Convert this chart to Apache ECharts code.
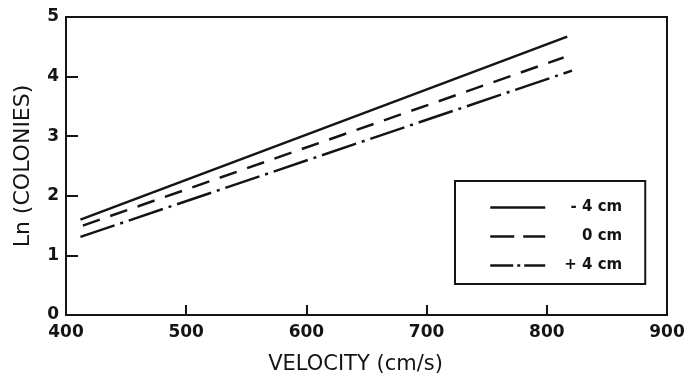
<!DOCTYPE html>
<html>
<head>
<meta charset="utf-8">
<script src="https://cdn.jsdelivr.net/npm/echarts@6/dist/echarts.min.js"></script>
<style>html,body{margin:0;padding:0;background:#fff;}#c{width:688px;height:377px;}</style>
</head>
<body>
<div id="c"></div>
<script>
const xTicks = [400, 500, 600, 700, 800, 900];
const yTicks = [0, 1, 2, 3, 4, 5];
const seriesNames = ['-4 cm', '0 cm', '+4 cm'];
const velSolid = [412, 817];
const lnSolid = [1.60, 4.67];
const velDashed = [414, 814];
const lnDashed = [1.50, 4.32];
const velDashDot = [412, 821];
const lnDashDot = [1.31, 4.10];

const ink = '#141414';
const font = 'DejaVu Sans';
function pts(xs, ys) { return xs.map((x, i) => [x, ys[i]]); }
const legendLabels = {'-4 cm': '- 4 cm', '0 cm': '0 cm', '+4 cm': '+ 4 cm'};
const dashTypes = ['solid', [18, 11], [36, 6, 3, 6]];
const legendDash = ['solid', [24, 9], [23, 4, 3, 4]];

const chart = echarts.init(document.getElementById('c'), null, {renderer: 'canvas'});
chart.setOption({
  backgroundColor: '#fff',
  animation: false,
  grid: {left: 66, right: 21, top: 17, bottom: 62, show: true, borderColor: ink, borderWidth: 2,
         containLabel: false, outerBoundsMode: 'none'},
  xAxis: {
    type: 'value', min: xTicks[0], max: xTicks[xTicks.length - 1], interval: 100,
    name: 'VELOCITY (cm/s)', nameLocation: 'middle', nameGap: 39,
    nameTextStyle: {color: ink, fontFamily: font, fontSize: 21, padding: [0, 22, 0, 0]},
    axisLine: {lineStyle: {color: ink, width: 2}},
    axisTick: {inside: true, length: 10, lineStyle: {color: ink, width: 2}},
    axisLabel: {color: ink, fontFamily: font, fontSize: 17, fontWeight: 'bold', margin: 9},
    splitLine: {show: false}
  },
  yAxis: {
    type: 'value', min: yTicks[0], max: yTicks[yTicks.length - 1], interval: 1,
    name: 'Ln (COLONIES)', nameLocation: 'middle', nameGap: 32, nameRotate: 90,
    nameTextStyle: {color: ink, fontFamily: font, fontSize: 22},
    axisLine: {lineStyle: {color: ink, width: 2}},
    axisTick: {inside: true, length: 12, lineStyle: {color: ink, width: 2}},
    axisLabel: {color: ink, fontFamily: font, fontSize: 17, fontWeight: 'bold', margin: 7},
    splitLine: {show: false}
  },
  legend: {
    orient: 'vertical', left: 455, top: 181,
    padding: [19, 23, 11, 34],
    borderColor: ink, borderWidth: 2,
    itemWidth: 55, itemHeight: 14, itemGap: 14,
    itemStyle: {opacity: 0},
    data: seriesNames.map((n, i) => ({name: n, lineStyle: {type: legendDash[i], width: 2.5}})),
    formatter: n => '{a|' + legendLabels[n] + '}',
    textStyle: {color: ink, fontFamily: font, fontSize: 15,
      rich: {a: {width: 72, align: 'right', fontSize: 15, fontWeight: 'bold', fontFamily: font, color: ink}}}
  },
  series: [
    {name: seriesNames[0], type: 'line', symbol: 'none', data: pts(velSolid, lnSolid),
     lineStyle: {color: ink, width: 2.5, type: dashTypes[0]}, itemStyle: {color: ink}},
    {name: seriesNames[1], type: 'line', symbol: 'none', data: pts(velDashed, lnDashed),
     lineStyle: {color: ink, width: 2.5, type: dashTypes[1]}, itemStyle: {color: ink}},
    {name: seriesNames[2], type: 'line', symbol: 'none', data: pts(velDashDot, lnDashDot),
     lineStyle: {color: ink, width: 2.5, type: dashTypes[2]}, itemStyle: {color: ink}}
  ]
});
</script>
</body>
</html>
